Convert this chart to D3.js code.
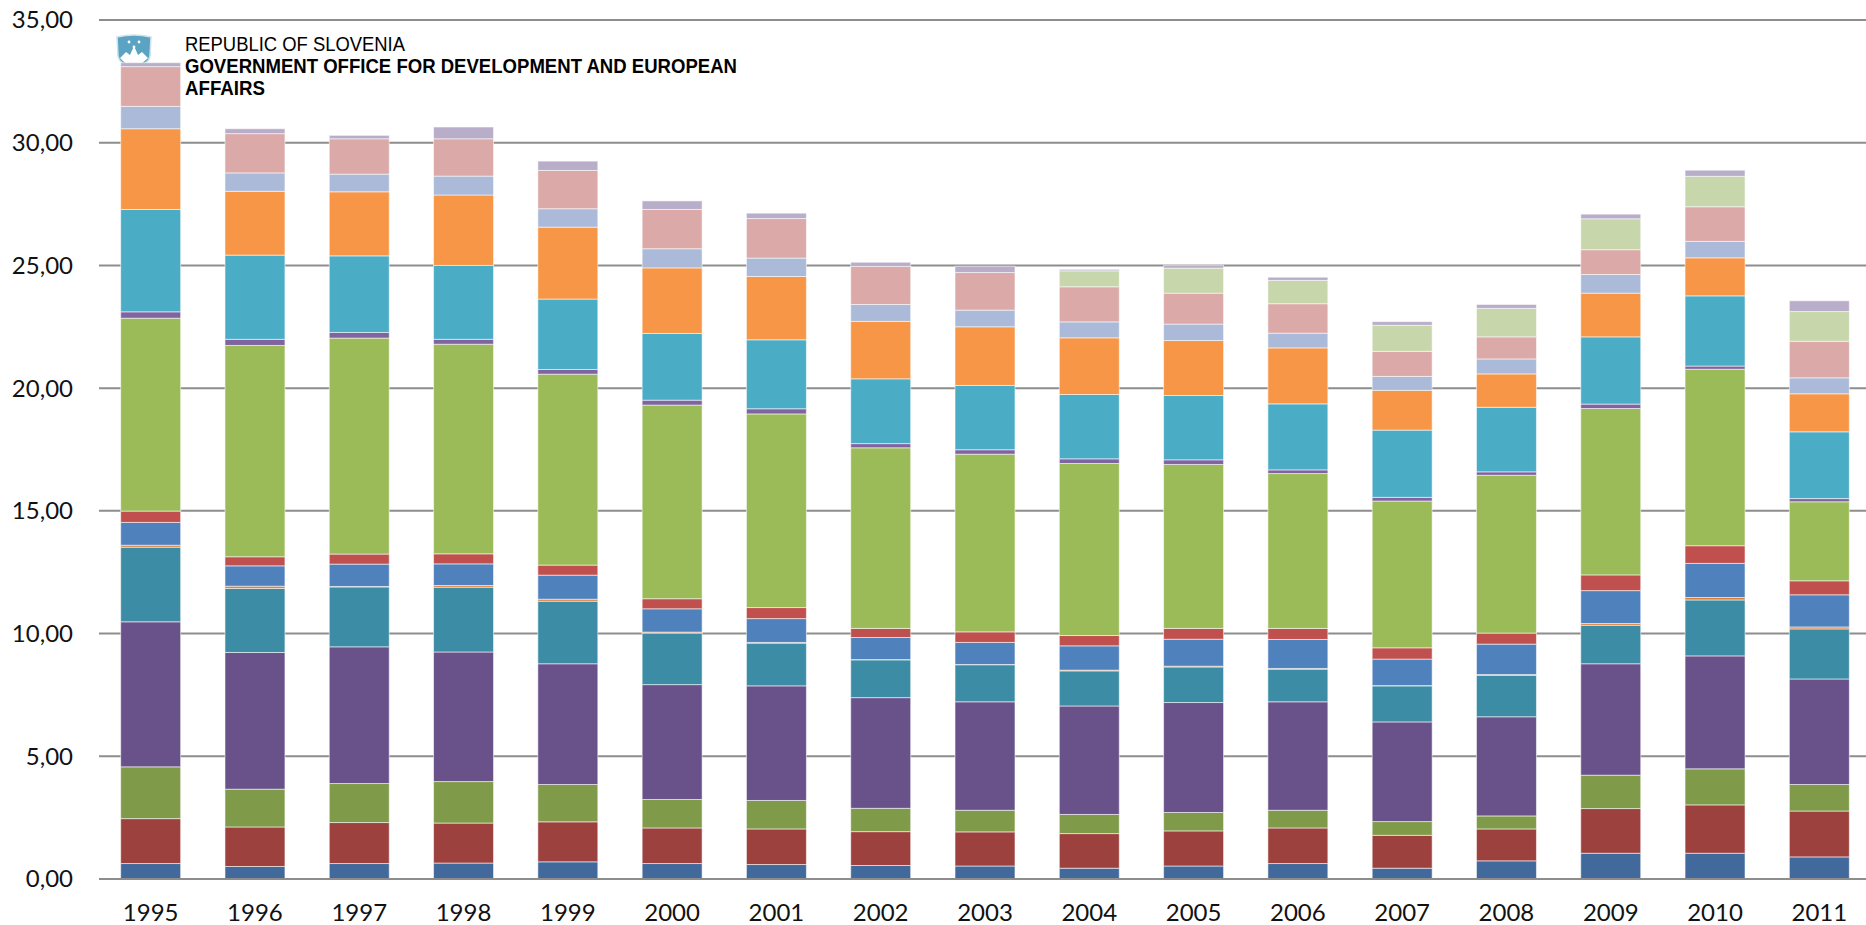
<!DOCTYPE html>
<html>
<head>
<meta charset="utf-8">
<script src="https://cdn.jsdelivr.net/npm/d3@7"></script>
<style>
  body { margin: 0; background: #fff; }
</style>
</head>
<body>
<div id="chart"></div>
<script>
(function() {
  const width = 1866;
  const height = 925;

  // categories
  const years = ["1995", "1996", "1997", "1998", "1999", "2000", "2001", "2002", "2003",
    "2004", "2005", "2006", "2007", "2008", "2009", "2010", "2011"];

  // series values, bottom to top of the stack
  const s01 = [0.63, 0.51, 0.63, 0.65, 0.70, 0.63, 0.59, 0.55, 0.53, 0.44, 0.53, 0.63, 0.44, 0.74, 1.05, 1.05, 0.90];
  const s02 = [1.83, 1.61, 1.67, 1.63, 1.63, 1.45, 1.45, 1.38, 1.39, 1.41, 1.43, 1.45, 1.34, 1.30, 1.82, 1.97, 1.87];
  const s03 = [2.11, 1.54, 1.59, 1.69, 1.52, 1.16, 1.16, 0.95, 0.88, 0.78, 0.75, 0.72, 0.56, 0.53, 1.36, 1.47, 1.08];
  const s04 = [5.91, 5.57, 5.57, 5.28, 4.92, 4.68, 4.67, 4.51, 4.42, 4.42, 4.48, 4.42, 4.06, 4.04, 4.54, 4.60, 4.30];
  const s05 = [3.04, 2.61, 2.44, 2.64, 2.55, 2.10, 1.74, 1.54, 1.51, 1.43, 1.45, 1.33, 1.47, 1.69, 1.57, 2.28, 2.04];
  const s06 = [0.08, 0.09, 0.02, 0.07, 0.08, 0.04, 0.03, 0.01, 0.01, 0.03, 0.03, 0.03, 0.01, 0.03, 0.07, 0.10, 0.08];
  const s07 = [0.93, 0.83, 0.91, 0.88, 0.98, 0.95, 0.97, 0.90, 0.90, 0.99, 1.10, 1.18, 1.08, 1.24, 1.34, 1.39, 1.31];
  const s08 = [0.46, 0.37, 0.41, 0.41, 0.41, 0.41, 0.45, 0.37, 0.43, 0.42, 0.44, 0.45, 0.46, 0.45, 0.64, 0.72, 0.57];
  const s09 = [7.86, 8.61, 8.80, 8.54, 7.78, 7.89, 7.89, 7.36, 7.24, 7.01, 6.68, 6.31, 5.98, 6.43, 6.78, 7.19, 3.22];
  const s10 = [0.26, 0.25, 0.23, 0.20, 0.19, 0.20, 0.21, 0.17, 0.18, 0.19, 0.19, 0.15, 0.15, 0.14, 0.18, 0.13, 0.13];
  const s11 = [4.17, 3.43, 3.12, 3.01, 2.87, 2.72, 2.81, 2.64, 2.62, 2.62, 2.62, 2.69, 2.74, 2.63, 2.74, 2.86, 2.72];
  const s12 = [3.29, 2.60, 2.61, 2.87, 2.93, 2.67, 2.58, 2.34, 2.39, 2.31, 2.24, 2.28, 1.62, 1.36, 1.78, 1.55, 1.55];
  const s13 = [0.91, 0.75, 0.72, 0.77, 0.75, 0.78, 0.75, 0.69, 0.68, 0.65, 0.67, 0.60, 0.57, 0.61, 0.76, 0.67, 0.65];
  const s14 = [1.62, 1.60, 1.44, 1.52, 1.56, 1.60, 1.61, 1.55, 1.53, 1.43, 1.26, 1.20, 1.02, 0.90, 1.01, 1.41, 1.49];
  const s15 = [0, 0, 0, 0, 0, 0, 0, 0, 0, 0.65, 1.02, 0.95, 1.06, 1.16, 1.26, 1.24, 1.21];
  const s16 = [0.16, 0.20, 0.14, 0.48, 0.38, 0.35, 0.22, 0.17, 0.26, 0.06, 0.12, 0.13, 0.15, 0.16, 0.19, 0.25, 0.44];

  const allSeries = [s01, s02, s03, s04, s05, s06, s07, s08, s09, s10, s11, s12, s13, s14, s15, s16];
  const colors = ["#42699b", "#9d413e", "#7f9a48", "#69518a", "#3b8ca4", "#e07a30",
    "#4f81bd", "#c0504d", "#9bbb59", "#8064a2", "#4bacc6", "#f79646",
    "#abbad8", "#daa9a8", "#c7d6ab", "#b9aeca"];

  // tick values of the value axis
  const yTicks = [0, 5, 10, 15, 20, 25, 30, 35];

  // build a table the stack can read
  const keys = allSeries.map((d, i) => "s" + i);
  const table = years.map((y, j) => {
    const row = { year: y };
    allSeries.forEach((s, i) => { row["s" + i] = s[j]; });
    return row;
  });
  const stacked = d3.stack().keys(keys)(table);

  const svg = d3.select("#chart")
    .append("svg")
    .attr("width", width)
    .attr("height", height)
    .style("display", "block");

  const x = d3.scaleBand()
    .domain(years)
    .range([104, 1866])
    .paddingInner(0.425)
    .paddingOuter(0.16);

  const y = d3.scaleLinear()
    .domain([0, 35])
    .range([879, 20]);

  // gridlines
  svg.append("g")
    .selectAll("line")
    .data(yTicks)
    .join("line")
    .attr("x1", 99)
    .attr("x2", width)
    .attr("y1", d => y(d))
    .attr("y2", d => y(d))
    .style("stroke", "#8d8d8d")
    .style("stroke-width", 2);

  // value labels
  svg.append("g")
    .selectAll("text")
    .data(yTicks)
    .join("text")
    .attr("x", 73)
    .attr("y", d => y(d))
    .attr("dy", "0.35em")
    .attr("text-anchor", "end")
    .style("font-family", "Lato, 'Open Sans', sans-serif")
    .style("font-size", "24px")
    .style("fill", "#111")
    .text(d => d3.format(".2f")(d).replace(".", ","));

  // logo
  const logo = svg.append("g").attr("transform", "translate(116,34)");
  logo.append("path")
    .attr("d", "M1,3 Q18,-1 35,3 L34,22 Q33,30 18,34 Q3,30 2,22 Z")
    .style("fill", "#5aa3c2")
    .style("stroke", "#cfe3ec")
    .style("stroke-width", 1.5);
  logo.append("path")
    .attr("d", "M4,24 L10,18 L14,21 L18,12 L22,21 L26,18 L32,24 Q25,31 18,33 Q10,31 4,24 Z")
    .style("fill", "#ffffff");
  logo.selectAll("circle.star")
    .data([[13, 8], [23, 8], [18, 13]])
    .join("circle")
    .attr("class", "star")
    .attr("cx", d => d[0])
    .attr("cy", d => d[1])
    .attr("r", 1.4)
    .style("fill", "#fff");

  // the stacked bars
  svg.append("g")
    .selectAll("g")
    .data(stacked)
    .join("g")
    .style("fill", (d, i) => colors[i])
    .selectAll("rect")
    .data(d => d.filter(p => p[1] - p[0] > 0))
    .join("rect")
    .attr("x", d => x(d.data.year))
    .attr("width", x.bandwidth())
    .attr("y", d => y(d[1]))
    .attr("height", d => y(d[0]) - y(d[1]))
    .style("stroke", "rgba(255,255,255,0.55)")
    .style("stroke-width", 1);

  // zero line on top of the bars
  svg.append("line")
    .attr("x1", 99)
    .attr("x2", width)
    .attr("y1", y(0))
    .attr("y2", y(0))
    .style("stroke", "#8d8d8d")
    .style("stroke-width", 2);

  // category labels
  svg.append("g")
    .selectAll("text")
    .data(years)
    .join("text")
    .attr("x", d => x(d) + x.bandwidth() / 2)
    .attr("y", 921)
    .attr("text-anchor", "middle")
    .style("font-family", "Lato, 'Open Sans', sans-serif")
    .style("font-size", "24px")
    .style("fill", "#111")
    .text(d => d);

  // header text
  const head = svg.append("g")
    .style("font-family", "'Liberation Sans', Arial, sans-serif")
    .style("fill", "#000");
  head.append("text")
    .attr("x", 185)
    .attr("y", 51)
    .attr("textLength", 220)
    .attr("lengthAdjust", "spacingAndGlyphs")
    .style("font-size", "20px")
    .text("REPUBLIC OF SLOVENIA");
  head.append("text")
    .attr("x", 185)
    .attr("y", 73)
    .attr("textLength", 552)
    .attr("lengthAdjust", "spacingAndGlyphs")
    .style("font-size", "20px")
    .style("font-weight", "bold")
    .text("GOVERNMENT OFFICE FOR DEVELOPMENT AND EUROPEAN");
  head.append("text")
    .attr("x", 185)
    .attr("y", 95)
    .attr("textLength", 80)
    .attr("lengthAdjust", "spacingAndGlyphs")
    .style("font-size", "20px")
    .style("font-weight", "bold")
    .text("AFFAIRS");
})();
</script>
</body>
</html>
